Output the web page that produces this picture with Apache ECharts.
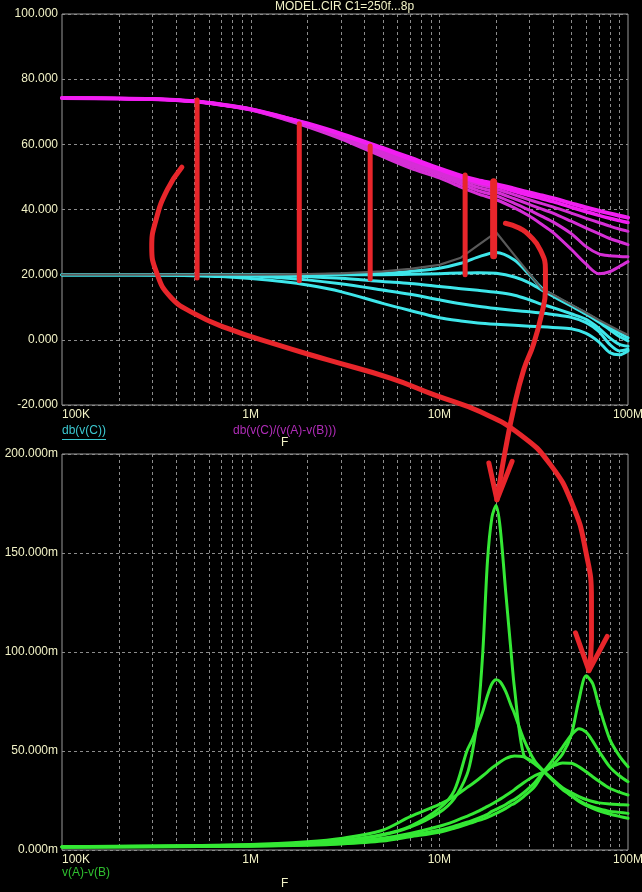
<!DOCTYPE html>
<html><head><meta charset="utf-8">
<script src="https://cdn.jsdelivr.net/npm/echarts@6/dist/echarts.min.js"></script>
<style>html,body{margin:0;padding:0;background:#000;}#c{width:642px;height:892px;}</style>
</head><body><div id="c"></div>
<script>
const FONT = "'Liberation Sans', Arial, sans-serif";

// ---- axes / ticks ----
const xTickLabels = ['100K', '1M', '10M', '100M'];
const gridFreqs = [2e5,3e5,4e5,5e5,6e5,7e5,8e5,9e5,1e6,2e6,3e6,4e6,5e6,6e6,7e6,8e6,9e6,1e7,2e7,3e7,4e7,5e7,6e7,7e7,8e7,9e7];

// ---- top plot (dB) ----
const FT = [1e5,2e5,3e5,5e5,7e5,1e6,1.5e6,2e6,3e6,5e6,7e6,1e7,1.3e7,1.6e7,2e7,2.5e7,3e7,3.5e7,4e7,5e7,6e7,7e7,8e7,9e7,1e8];
const dbC1 = [20,20,20,20,20,20,20.1,20.2,20.4,21,21.8,23,25.2,29,33,26,20.3,15.5,13.9,10.8,8.3,6.1,4.3,2.8,1.5];
const dbC2 = [20,20,20,20,20,20,20,20,20.1,20.4,21,22,23.5,25.4,26.8,24.5,20,15.8,13.7,10.6,8.1,5.8,3.8,2,0.6];
const dbC3 = [20,20,20,20,20,20,20,20,20,20,20.1,20.3,20.5,20.6,20.4,19.3,17.5,15.2,13.4,10.4,7.9,5.5,3.1,1,-0.3];
const dbC4 = [20,20,20,20,20,19.9,19.7,19.4,18.9,17.9,17.3,16.4,15.7,15.2,14.6,13.7,12.3,10.9,9.9,8,6.3,3.6,0.6,-1.4,-2];
const dbC5 = [20,20,20,20,19.8,19.6,19,18.4,17.2,15.3,14,12.3,11.1,10.3,9.6,9,8.6,8.2,7.8,6.9,5.3,2.6,-1.4,-3.4,-2.9];
const dbC6 = [20,20,19.9,19.7,19.4,18.8,17.8,16.8,14.8,11.2,9,6.8,5.8,5.2,4.8,4.5,4.2,4,3.8,3.4,2,-0.6,-3.9,-4.6,-3.4];

const dbR1 = [74.2,74.1,73.9,73.2,72.2,70.8,68.3,66.4,63.3,58.9,55.9,52.6,50.4,49,47.8,46.4,45.2,44.3,43.5,41.9,40.6,39.6,38.8,38.1,37.5];
const dbR2 = [74.2,74.1,73.9,73.2,72.2,70.8,68.3,66.3,63.1,58.6,55.5,52.3,50,48.4,47.2,45.6,44.3,43.3,42.4,40.7,39.3,38.2,37.3,36.6,36];
const dbR3 = [74.2,74.1,73.9,73.2,72.2,70.8,68.2,66.1,62.8,58.1,54.9,51.8,49.3,47.7,46.3,44.5,43,41.8,40.8,38.9,37.3,36,34.9,34,33.3];
const dbR4 = [74.2,74.1,73.9,73.2,72.1,70.7,68,65.9,62.4,57.5,54.2,51.2,48.6,46.8,45.3,43.3,41.6,40.1,38.9,36.4,34.3,32.6,31.1,30.1,29.2];
const dbR5 = [74.2,74.1,73.9,73.2,72.1,70.6,67.9,65.7,62.1,56.9,53.5,50.5,47.8,45.8,44.2,41.9,39.8,37.9,36.2,32.6,28.6,26.4,25.8,25.6,25.5];
const dbR6 = [74.2,74.1,73.9,73.2,72,70.5,67.7,65.4,61.7,56.2,52.7,49.7,46.9,44.8,43,40.5,38,35.4,33,27.8,23.2,20.3,20.9,22.5,24];

// ---- bottom plot (mV) ----
const FG = [1e5,3e5,1e6,2e6,3e6,5e6,7e6,1e7,1.2e7,1.4e7,1.5e7,1.6e7,1.7e7,1.8e7,1.9e7,2e7,2.1e7,2.25e7,2.4e7,2.5e7,2.8e7,3.2e7,3.6e7,4e7,4.5e7,5e7,5.5e7,6e7,6.5e7,7e7,8e7,9e7,1e8];
const vAB1 = [1.7,1.9,2.5,3.5,4.6,7.5,11.5,19,26,38,50,68,100,146,168,174,163,130,100,82,48,43.5,39.5,35.5,31,27.5,24.5,22.5,21,19.8,18.2,17,16];
const vAB2 = [1.7,1.9,2.5,3.5,4.6,7.8,12,21,30,50,56,63,70,78,84,86,85,80,73,69,56,45,39.5,35,30.5,27.5,25,23,21.8,20.8,19.5,19,18.5];
const vAB3 = [1.7,2,2.8,4.2,5.8,10,16.8,23,27,31.5,33.5,35.5,37.5,39.5,41.5,43,44.5,46.2,47.2,47.5,47,44,39.5,35.5,31.5,29,27,25.5,24.5,23.8,23.2,22.9,22.7];
const vAB4 = [1.6,1.8,2.2,3,3.8,6,8.4,12,14.5,17,18.2,19.5,20.8,22,23.2,24.5,25.7,27.5,29.3,30.5,34,37.5,39.5,42.3,44,43.8,42,39.5,37,34.8,31.2,29.2,27.8];
const vAB5 = [1.5,1.7,2,2.6,3.3,5,7.5,10,12,14,15,16,17,18,19.5,20.5,21.5,23,24.7,25.5,29,34,40,45.5,52,58,61.3,59.5,55,50,42,37.5,34.5];
const vAB6 = [1.4,1.6,1.9,2.4,3,4.5,6.7,9,11,13,13.9,14.8,15.6,16.5,17.5,18.5,19.5,21,22.7,23.5,27,32,39.5,43,48.5,58,76,88,84,73,56,47.5,42];

// ---- red annotations, in top-plot data units [freq, dB] ----
const redBar1 = [[5.2e5,73.6],[5.2e5,19.0]];
const redBar2 = [[1.81e6,66.3],[1.81e6,18.1]];
const redBar3 = [[4.3e6,59.5],[4.3e6,18.7]];
const redBar4 = [[1.37e7,50.6],[1.37e7,20.0]];
const redBar5 = [[1.94e7,48.5],[1.94e7,25.8]];
const redArcLong = [[4.32e5,53.0],[3.61e5,46.0],[3.15e5,36.8],[2.99e5,28.6],[3.18e5,20.5],[3.74e5,13.3],[4.97e5,8.2],[7.48e5,3.6],[1.377e6,-1.5],[2.54e6,-6.1],[5.5e6,-11.75],[9.41e6,-16.9],[1.65e7,-22.1],[2.69e7,-29.1],[3.88e7,-38.3],[5.08e7,-50.6],[5.95e7,-64.4],[6.4e7,-79.75],[6.4e7,-92],[6.21e7,-101.5]];
const redHeadLong = [[5.27e7,-89.9],[6.21e7,-101.5],[7.76e7,-91.0]];
const redArcShort = [[2.24e7,35.8],[2.63e7,34.4],[3.04e7,31.7],[3.43e7,27.6],[3.65e7,21.5],[3.65e7,15.3],[3.48e7,7.7],[3.15e7,-1.5],[2.8e7,-9.2],[2.47e7,-21.5],[2.24e7,-33.7],[2.08e7,-44.5],[2.02e7,-49.1]];
const redHeadShort = [[1.83e7,-37.8],[2.02e7,-49.1],[2.43e7,-37.3]];

// ---- build ----
const CREAM = '#f2f2c6';
const pairs = (xs, ys) => xs.map((x, i) => [x, ys[i]]);
const xFmt = v => xTickLabels[Math.round(Math.log10(v)) - 5];

function xAx(gi) {
  return {
    type: 'log', logBase: 10, min: 1e5, max: 1e8, gridIndex: gi,
    axisLine: {show: false}, axisTick: {show: false}, splitLine: {show: false},
    axisLabel: {color: CREAM, fontFamily: FONT, fontSize: 12, margin: 4, formatter: xFmt, alignMinLabel: 'left', showMinLabel: true, showMaxLabel: true}
  };
}
function yAx(gi, min, max, interval, fmt) {
  return {
    type: 'value', min, max, interval, gridIndex: gi,
    axisLine: {show: false}, axisTick: {show: false},
    splitLine: {show: true, lineStyle: {color: '#8c8c8c', width: 1, type: [3, 3]}},
    axisLabel: {color: CREAM, fontFamily: FONT, fontSize: 12, margin: 4, formatter: fmt, showMinLabel: true, showMaxLabel: true}
  };
}
function vgrid(gi, yv) {
  return {
    type: 'custom', xAxisIndex: gi, yAxisIndex: gi, z: 1, silent: true,
    data: gridFreqs.map(f => [f, yv]),
    renderItem: (params, api) => {
      const cs = params.coordSys;
      const x = Math.round(api.coord([api.value(0), yv])[0]) + 0.5;
      return {type: 'line', shape: {x1: x, y1: cs.y, x2: x, y2: cs.y + cs.height},
        style: {stroke: '#8c8c8c', lineWidth: 1, lineDash: [3, 3]}};
    }
  };
}
function curve(gi, xs, ys, color, width, z, smooth) {
  return {
    type: 'line', xAxisIndex: gi, yAxisIndex: gi, data: pairs(xs, ys),
    showSymbol: false, symbol: 'none', smooth: smooth === undefined ? 0.3 : smooth,
    lineStyle: {color, width, cap: 'round', join: 'round'}, z: z || 2, silent: true
  };
}
function red(d, width, smooth) {
  return {
    type: 'line', xAxisIndex: 0, yAxisIndex: 0, data: d, clip: false,
    showSymbol: false, symbol: 'none', smooth: smooth ? 0.5 : false,
    lineStyle: {color: '#e8262b', width, cap: 'round', join: 'round'}, z: 10, silent: true
  };
}

const CYAN = '#3ee6ea', GRAY = '#5a5a5a', MAG = '#d62ed6', MAG_B = '#f21ef2', GREEN = '#34e834';

const series = [
  vgrid(0, 0), vgrid(1, 10),
  curve(0, FT, dbC6, CYAN, 3), curve(0, FT, dbC5, CYAN, 3), curve(0, FT, dbC4, CYAN, 3),
  curve(0, FT, dbC3, CYAN, 3), curve(0, FT, dbC2, CYAN, 3),
  curve(0, FT, dbC1, GRAY, 2.2, 3, false),
  curve(0, FT, dbR6, MAG, 3), curve(0, FT, dbR5, MAG, 3), curve(0, FT, dbR4, MAG, 3),
  curve(0, FT, dbR3, MAG, 3), curve(0, FT, dbR2, MAG_B, 3.5), curve(0, FT, dbR1, MAG_B, 4),
  curve(1, FG, vAB6, GREEN, 3), curve(1, FG, vAB5, GREEN, 3), curve(1, FG, vAB4, GREEN, 3),
  curve(1, FG, vAB3, GREEN, 3), curve(1, FG, vAB2, GREEN, 3), curve(1, FG, vAB1, GREEN, 3),
  red(redBar1, 5), red(redBar2, 5), red(redBar3, 5), red(redBar4, 5), red(redBar5, 7),
  red(redArcLong, 5, true), red(redHeadLong, 5), red(redArcShort, 5, true), red(redHeadShort, 5)
];

const txt = (left, top, text, fill) => ({type: 'text', left, top, z: 20, silent: true,
  style: {text, fill, font: '12px ' + FONT}});

const option = {
  backgroundColor: '#000',
  animation: false,
  grid: [
    {left: 62, top: 14, width: 566, height: 391, show: true, borderColor: '#9a9a9a', borderWidth: 1, backgroundColor: 'transparent', outerBoundsMode: 'none'},
    {left: 62, top: 454, width: 566, height: 396, show: true, borderColor: '#9a9a9a', borderWidth: 1, backgroundColor: 'transparent', outerBoundsMode: 'none'}
  ],
  xAxis: [xAx(0), xAx(1)],
  yAxis: [
    yAx(0, -20, 100, 20, v => v.toFixed(3)),
    yAx(1, 0, 200, 50, v => v.toFixed(3) + 'm')
  ],
  graphic: [
    txt(275, 1, 'MODEL.CIR C1=250f...8p', CREAM),
    txt(62, 425, 'db(v(C))', '#3cc8d0'),
    {type: 'rect', left: 62, top: 439, z: 20, silent: true, shape: {width: 44, height: 1}, style: {fill: '#3cc8d0'}},
    txt(233, 425, 'db(v(C)/(v(A)-v(B)))', '#b02cb8'),
    txt(281, 437, 'F', CREAM),
    txt(62, 867, 'v(A)-v(B)', '#2fbf2f'),
    txt(281, 878, 'F', CREAM)
  ],
  series
};

const chart = echarts.init(document.getElementById('c'), null, {renderer: 'canvas'});
chart.setOption(option);
</script>
</body></html>
